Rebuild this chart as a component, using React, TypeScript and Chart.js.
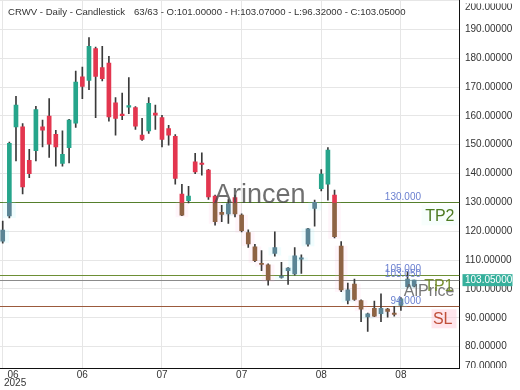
import React, { useEffect, useRef } from 'react';
import { Chart, registerables } from 'chart.js';

Chart.register(...registerables);

const opens = [116.6, 125.3, 156.2, 156.2, 144.6, 147.9, 156.2, 159.9, 153.6, 143.5, 149.0, 157.5, 173.5, 172.3, 183.3, 176.7, 178.3, 164.5, 160.6, 163.0, 162.9, 153.3, 154.8, 161.0, 159.4, 155.6, 152.9, 132.9, 130.6, 144.1, 143.6, 141.2, 132.2, 126.6, 126.0, 131.7, 125.6, 119.5, 114.6, 108.9, 108.4, 112.3, 104.0, 106.3, 105.2, 110.3, 115.5, 127.9, 134.8, 136.3, 132.5, 114.9, 96.0, 101.7, 96.0, 90.3, 93.3, 91.4, 93.0, 91.6, 94.3, 100.8, 101.0];
const highs = [123.5, 150.9, 166.8, 157.3, 148.4, 163.3, 158.5, 166.0, 155.0, 154.8, 158.8, 175.5, 176.9, 187.1, 183.8, 184.1, 180.6, 166.3, 167.9, 173.3, 163.2, 159.1, 166.3, 163.7, 160.2, 156.7, 153.5, 136.3, 135.6, 147.0, 147.2, 141.5, 132.5, 129.0, 131.0, 132.5, 126.0, 120.5, 115.5, 113.3, 108.7, 119.8, 109.2, 107.4, 114.3, 111.8, 121.0, 130.8, 141.4, 149.0, 134.3, 116.4, 102.0, 103.4, 96.2, 91.6, 95.8, 98.3, 93.3, 94.0, 97.0, 106.0, 103.07];
const lows = [115.9, 124.6, 144.4, 132.9, 138.6, 144.4, 149.2, 145.6, 142.6, 142.6, 143.7, 156.0, 166.0, 169.1, 159.4, 172.1, 158.2, 153.3, 158.7, 160.8, 155.3, 151.5, 153.9, 155.3, 149.2, 149.8, 136.3, 125.4, 129.8, 140.0, 139.4, 131.0, 122.1, 123.3, 122.7, 125.0, 119.8, 114.4, 109.5, 106.3, 101.3, 111.4, 103.7, 101.6, 104.8, 105.4, 114.8, 121.8, 134.0, 130.8, 117.7, 99.1, 94.8, 96.0, 88.7, 85.3, 90.4, 88.7, 90.2, 90.6, 92.6, 100.5, 100.7];
const closes = [120.4, 150.5, 163.7, 135.4, 140.0, 162.2, 155.0, 150.2, 149.2, 146.7, 158.5, 171.7, 170.2, 184.1, 173.7, 172.9, 159.6, 159.1, 160.1, 163.6, 156.4, 151.8, 164.3, 160.2, 151.8, 153.3, 138.3, 125.6, 132.2, 140.6, 143.2, 131.9, 123.3, 125.8, 129.6, 126.0, 120.2, 115.6, 109.8, 108.5, 103.1, 114.3, 104.5, 107.2, 111.5, 110.8, 120.8, 130.0, 139.8, 148.1, 118.1, 99.7, 99.7, 96.4, 93.0, 91.4, 90.6, 93.3, 92.2, 91.2, 96.6, 103.4, 103.05];

const xTickIndex = [0, 12, 24, 36, 48, 60];
const xTickLabels = ['06', '06', '07', '07', '08', '08'];
const yearLabel = '2025';
const yTickValues = [70, 80, 90, 100, 110, 120, 130, 140, 150, 160, 170, 180, 190, 200];
const levelValues = [130, 105, 103.05, 94];
const levelTexts = ['130.000', '105.000', '103.050', '94.000'];
const lastClose = 103.05;
const lastCloseText = '103.05000';
const tintLevel = 130;
const titleLeft = 'CRWV - Daily - Candlestick';
const titleRight = '63/63 - O:101.00000 - H:103.07000 - L:96.32000 - C:103.05000';
const watermark = 'Arincen';

const FONT = '"Liberation Sans", Arial, Helvetica, sans-serif';
const GREEN = '#26a58b';
const RED = '#e3364f';
const GREEN_T = '#5b8595';
const RED_T = '#8e6344';

const decor = {
  id: 'decor',
  beforeDatasetsDraw(chart: any) {
    const { ctx, chartArea: a, scales } = chart;
    const y = scales.y;
    ctx.save();
    ctx.beginPath();
    ctx.rect(a.left, a.top, a.right - a.left, a.bottom - a.top);
    ctx.clip();
    const pTP2 = y.getPixelForValue(levelValues[0]);
    ctx.fillStyle = 'rgba(215,250,242,0.2)';
    ctx.fillRect(a.right - 38, pTP2 + 3, 36, 20);
    const pSL = y.getPixelForValue(levelValues[3]);
    ctx.fillStyle = 'rgba(255,200,215,0.45)';
    ctx.fillRect(a.right - 28, pSL + 3, 25, 19);
    const lineColors = ['#557f2c', '#6d8f35', '#8c8c8c', '#9b5a3c'];
    levelValues.forEach((v, k) => {
      const py = Math.round(y.getPixelForValue(v)) + 0.5;
      ctx.strokeStyle = lineColors[k];
      ctx.lineWidth = 1;
      ctx.beginPath();
      ctx.moveTo(a.left, py);
      ctx.lineTo(a.right, py);
      ctx.stroke();
    });
    ctx.restore();
  },
  afterDatasetsDraw(chart: any) {
    const { ctx, chartArea: a, scales } = chart;
    const y = scales.y;
    ctx.save();
    ctx.beginPath();
    ctx.rect(a.left, a.top, a.right - a.left, a.bottom - a.top);
    ctx.clip();
    ctx.font = '27px ' + FONT;
    ctx.fillStyle = 'rgba(70,70,70,0.78)';
    ctx.textAlign = 'left';
    ctx.textBaseline = 'alphabetic';
    ctx.fillText(watermark, 214, 203);
    ctx.font = '10px ' + FONT;
    ctx.fillStyle = '#6b80d0';
    ctx.textAlign = 'right';
    ctx.textBaseline = 'middle';
    levelValues.forEach((v, k) => {
      ctx.fillText(levelTexts[k], a.right - 38.5, y.getPixelForValue(v) - 5.5);
    });
    ctx.font = '16px ' + FONT;
    ctx.textAlign = 'right';
    ctx.fillStyle = 'rgba(95,95,95,0.85)';
    ctx.fillText('AlPrice', a.right - 5, y.getPixelForValue(lastClose) + 11.5);
    ctx.fillStyle = '#4d7a22';
    ctx.fillText('TP2', a.right - 5, y.getPixelForValue(levelValues[0]) + 14);
    ctx.fillStyle = 'rgba(110,135,30,0.9)';
    ctx.fillText('TP1', a.right - 6, y.getPixelForValue(levelValues[1]) + 12);
    ctx.fillStyle = '#c0503a';
    ctx.fillText('SL', a.right - 7, y.getPixelForValue(levelValues[3]) + 13);
    ctx.restore();
  },
  afterDraw(chart: any) {
    const { ctx, chartArea: a, scales, width } = chart;
    const y = scales.y;
    const x = scales.x;
    ctx.save();
    ctx.beginPath();
    ctx.rect(a.right + 1, 3.5, width - a.right, a.bottom - 3.5);
    ctx.clip();
    ctx.font = '10px ' + FONT;
    ctx.fillStyle = '#333';
    ctx.textAlign = 'left';
    ctx.textBaseline = 'middle';
    yTickValues.forEach((v) => {
      let py = y.getPixelForValue(v);
      py = Math.min(Math.max(py, 7), a.bottom - 1.5);
      ctx.fillText(v.toFixed(5), a.right + 5.5, py);
    });
    ctx.restore();
    ctx.save();
    const pp = y.getPixelForValue(lastClose);
    ctx.fillStyle = '#36b09c';
    ctx.fillRect(a.right + 3, pp - 6, 50, 12);
    ctx.font = '10px ' + FONT;
    ctx.fillStyle = '#ffffff';
    ctx.textAlign = 'left';
    ctx.textBaseline = 'middle';
    ctx.fillText(lastCloseText, a.right + 5.5, pp);
    ctx.fillStyle = '#333';
    ctx.textAlign = 'center';
    xTickIndex.forEach((iv, k) => {
      const px = Math.max(x.getPixelForValue(iv), 13);
      ctx.fillText(xTickLabels[k], px, a.bottom + 7);
    });
    ctx.textAlign = 'left';
    ctx.fillText(yearLabel, 4, a.bottom + 15.5);
    ctx.font = '9.6px ' + FONT;
    ctx.fillStyle = '#333';
    ctx.fillText(titleLeft, 8, 12.5);
    ctx.fillText(titleRight, 134, 12.5);
    ctx.restore();
  },
};

export default function App() {
  const ref = useRef<HTMLCanvasElement>(null);
  useEffect(() => {
    if (!ref.current) return;
    const idx = opens.map((_, i) => i);
    const wicks = idx.map((i) => ({ x: i, y: [lows[i], highs[i]] }));
    const upper: any[] = [];
    const lower: any[] = [];
    const boxes: any[] = [];
    idx.forEach((i) => {
      const up = closes[i] >= opens[i];
      let lo = Math.min(opens[i], closes[i]);
      let hi = Math.max(opens[i], closes[i]);
      if (hi - lo < 0.4) {
        const m = (hi + lo) / 2;
        lo = m - 0.2;
        hi = m + 0.2;
      }
      if (hi > tintLevel) upper.push({ x: i, y: [Math.max(lo, tintLevel), hi], up });
      if (lo < tintLevel) {
        lower.push({ x: i, y: [lo, Math.min(hi, tintLevel)], up });
        boxes.push({ x: i, y: [lo - 0.6, Math.min(hi, tintLevel)], up });
      }
    });
    const chart = new Chart(ref.current, {
      type: 'bar',
      data: {
        datasets: [
          {
            data: boxes as any,
            grouped: false,
            barThickness: 12,
            order: 10,
            backgroundColor: (c: any) => (c.raw && c.raw.up ? 'rgba(160,240,250,0.16)' : 'rgba(255,170,215,0.12)'),
            borderWidth: 0,
          } as any,
          {
            data: wicks as any,
            grouped: false,
            barThickness: 1,
            order: 5,
            backgroundColor: '#3a3a3a',
            borderWidth: 0,
          } as any,
          {
            data: upper as any,
            grouped: false,
            barThickness: 4,
            order: 1,
            backgroundColor: (c: any) => (c.raw && c.raw.up ? GREEN : RED),
            borderWidth: 0,
          } as any,
          {
            data: lower as any,
            grouped: false,
            barThickness: 4,
            order: 1,
            backgroundColor: (c: any) => (c.raw && c.raw.up ? GREEN_T : RED_T),
            borderWidth: 0,
          } as any,
        ],
      },
      options: {
        animation: false,
        responsive: true,
        maintainAspectRatio: false,
        devicePixelRatio: 1,
        layout: { padding: 0, autoPadding: false } as any,
        plugins: { legend: { display: false }, tooltip: { enabled: false }, title: { display: false } },
        events: [],
        scales: {
          x: {
            type: 'linear',
            min: -0.41,
            max: 68.83,
            offset: false,
            grid: { color: '#e6e6e6', offset: false, drawTicks: false },
            border: { display: true, color: '#111', width: 1 },
            ticks: { display: false },
            afterBuildTicks: (s: any) => {
              s.ticks = xTickIndex.map((v) => ({ value: v }));
            },
            afterFit: (s: any) => {
              s.height = 22;
            },
          },
          y: {
            type: 'linear',
            position: 'right',
            min: 72.6,
            max: 200.16,
            grid: { color: '#e6e6e6', drawTicks: false },
            border: { display: true, color: '#111', width: 1 },
            ticks: { display: false },
            afterBuildTicks: (s: any) => {
              s.ticks = yTickValues.filter((v) => v >= s.min && v <= s.max).map((v) => ({ value: v }));
            },
            afterFit: (s: any) => {
              s.width = 60.5;
            },
          },
        },
      } as any,
      plugins: [decor],
    });
    return () => chart.destroy();
  }, []);
  return (
    <div style={{ position: 'fixed', left: 0, top: 0, width: 520, height: 390, background: '#fff' }}>
      <canvas ref={ref} />
    </div>
  );
}
